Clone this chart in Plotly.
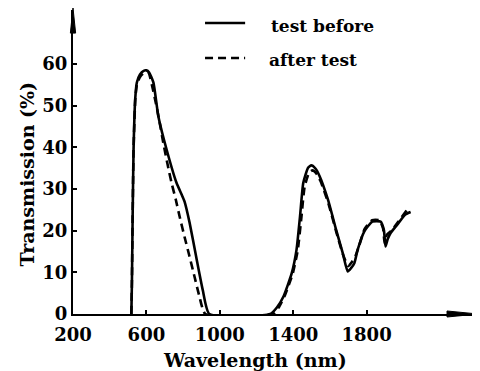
import plotly.graph_objects as go

# ---- data ----
before_nm = [518, 521, 525, 530, 539, 548, 565, 585, 600, 615, 638, 665, 710, 764, 792, 808, 835, 871, 907, 943,
             1275, 1310, 1347, 1392, 1418, 1437, 1455, 1481, 1499, 1520, 1544, 1589, 1634, 1670, 1697, 1715, 1733,
             1751, 1787, 1831, 1876, 1894, 1903, 1915, 1930, 1966, 2011, 2040]
before_T = [0, 7.5, 23.4, 39.5, 51.6, 55.6, 57.5, 58.4, 58.5, 58.0, 55.6, 47.5, 39.5, 31.5, 28.7, 27.0, 22.0, 13.8, 5.8, 0,
            0, 1.5, 4.2, 9.8, 15.4, 23.4, 31.5, 35.1, 35.7, 35.0, 33.1, 27.5, 20.2, 14.6, 10.2, 11.0, 12.2,
            15.4, 19.8, 22.2, 22.2, 20.2, 16.2, 18.0, 19.4, 21.4, 23.9, 24.5]

after_nm = [518, 521, 525, 530, 540, 550, 570, 590, 611, 630, 647, 670, 692, 715, 737, 760, 781, 808, 835, 862, 889, 921,
            1290, 1320, 1355, 1398, 1425, 1445, 1462, 1485, 1505, 1525, 1550, 1592, 1636, 1672, 1700, 1720, 1740,
            1760, 1790, 1830, 1870, 1890, 1898, 1910, 1935, 1970, 2020]
after_T = [0, 7.5, 23.4, 39.5, 52.0, 55.5, 57.2, 58.0, 58.0, 55.0, 51.6, 46.5, 41.1, 36.0, 31.5, 27.5, 23.4, 18.5, 13.8, 9.0, 4.2, 0,
           0, 1.5, 4.5, 9.8, 15.4, 23.4, 30.5, 33.8, 34.5, 33.8, 31.8, 26.5, 19.5, 14.2, 11.5, 12.5, 14.0,
           16.5, 20.5, 22.5, 22.5, 20.5, 17.0, 19.0, 20.0, 22.0, 25.0]

x_ticks = [200, 600, 1000, 1400, 1800]
y_ticks = [0, 10, 20, 30, 40, 50, 60]
series_names = ["test before", "after test"]
x_title = "Wavelength (nm)"
y_title = "Transmission (%)"

FONT = "DejaVu Serif"

fig = go.Figure()
fig.add_trace(go.Scatter(x=before_nm, y=before_T, mode="lines", name=series_names[0],
                         line=dict(color="black", width=2.6, shape="spline", smoothing=0.5),
                         cliponaxis=False))
fig.add_trace(go.Scatter(x=after_nm, y=after_T, mode="lines", name=series_names[1],
                         line=dict(color="black", width=2.6, dash="8px,5px", shape="spline", smoothing=0.5),
                         cliponaxis=False))

# manual legend
fig.add_shape(type="line", xref="paper", yref="paper", x0=0.326, x1=0.425, y0=0.957, y1=0.957,
              line=dict(color="black", width=2.6))
fig.add_shape(type="line", xref="paper", yref="paper", x0=0.326, x1=0.425, y0=0.842, y1=0.842,
              line=dict(color="black", width=2.6, dash="8px,5px"))
fig.add_annotation(xref="paper", yref="paper", x=0.484, y=0.948, xanchor="left", yanchor="middle",
                   text=series_names[0], showarrow=False,
                   font=dict(family=FONT, size=17, color="black", weight="bold"))
fig.add_annotation(xref="paper", yref="paper", x=0.479, y=0.835, xanchor="left", yanchor="middle",
                   text=series_names[1], showarrow=False,
                   font=dict(family=FONT, size=17, color="black", weight="bold"))

# axis titles
fig.add_annotation(xref="paper", yref="paper", x=0.449, y=-0.151, xanchor="center", yanchor="middle",
                   text=x_title, showarrow=False,
                   font=dict(family=FONT, size=19, color="black", weight="bold"))
fig.add_annotation(xref="paper", yref="paper", x=-0.1136, y=0.462, xanchor="center", yanchor="middle",
                   text=y_title, showarrow=False, textangle=-90,
                   font=dict(family=FONT, size=19, color="black", weight="bold"))

# axis arrowheads
fig.add_shape(type="path", xref="paper", yref="paper",
              path="M 0.9235 0.0099 L 1.0 0.0 L 0.9235 -0.0099 Z",
              fillcolor="black", line=dict(color="black", width=1))
fig.add_shape(type="path", xref="paper", yref="paper",
              path="M -0.0065 0.924 L 0 1.0066 L 0.0065 0.924 Z",
              fillcolor="black", line=dict(color="black", width=1))

# page body has an 8px margin: shrink the figure so the plot area lands at the reference position
fig.update_layout(
    width=472, height=363,
    margin=dict(l=65, r=2, t=2, b=57),
    paper_bgcolor="white", plot_bgcolor="white",
    showlegend=False,
    font=dict(family=FONT, color="black"),
    xaxis=dict(range=[200, 2407], tickvals=x_ticks, ticktext=[str(v) for v in x_ticks],
               automargin=False,
               showgrid=False, zeroline=False, showline=True, linecolor="black", linewidth=2,
               ticks="inside", ticklen=4, tickwidth=1.5, tickcolor="black",
               ticklabelstandoff=3,
               tickfont=dict(family=FONT, size=18, weight="bold")),
    yaxis=dict(range=[0, 73], tickvals=y_ticks, ticktext=[str(v) for v in y_ticks],
               automargin=False,
               showgrid=False, zeroline=False, showline=True, linecolor="black", linewidth=2,
               ticks="inside", ticklen=4, tickwidth=1.5, tickcolor="black",
               tickfont=dict(family=FONT, size=18, weight="bold")),
)

fig.write_html("out.html")
